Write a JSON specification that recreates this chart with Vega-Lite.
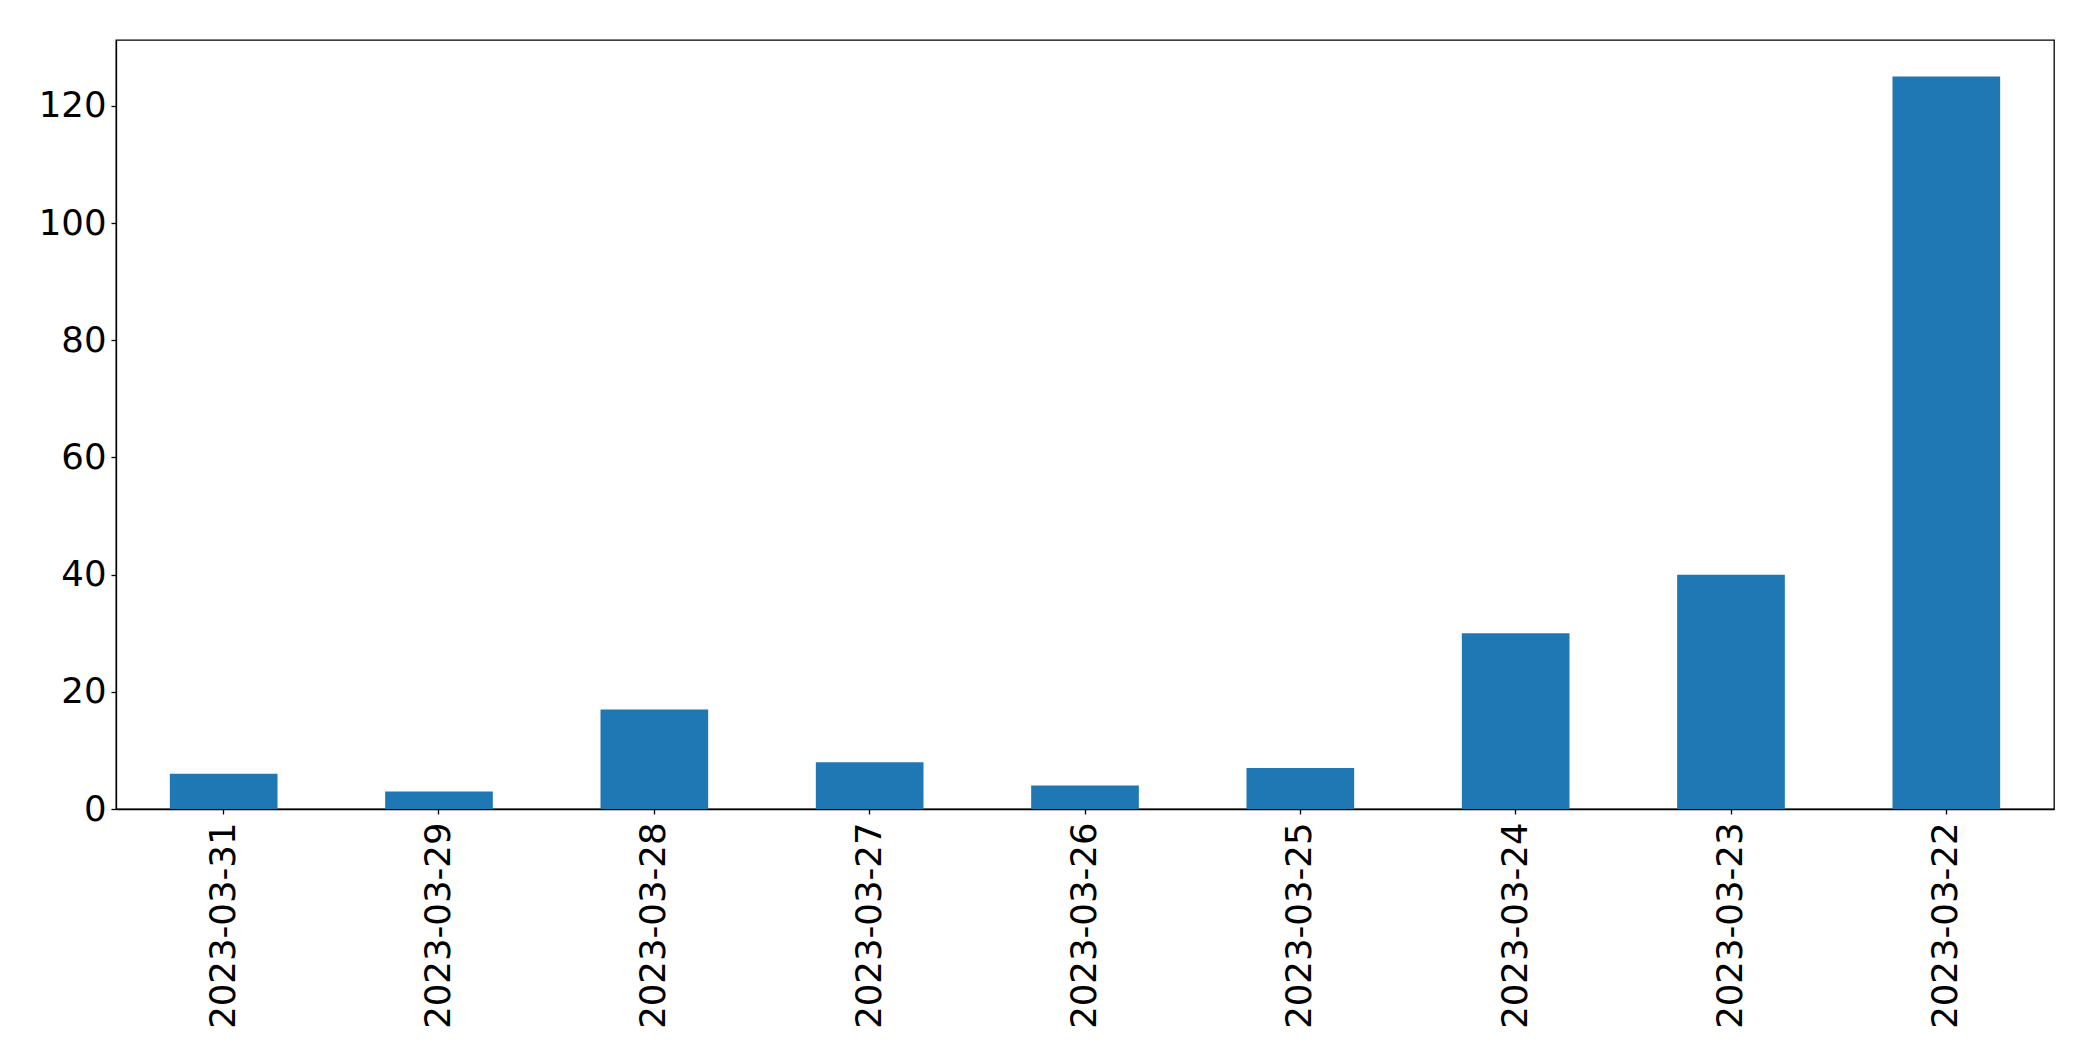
{
  "$schema": "https://vega.github.io/schema/vega-lite/v6.json",
  "autosize": {"type": "none"},
  "padding": {"left": 116, "top": 40, "right": 39, "bottom": 252},
  "width": 1938,
  "height": 769,
  "background": "white",
  "config": {
    "font": "DejaVu Sans",
    "view": {"stroke": "#000000", "strokeWidth": 1.3},
    "axis": {
      "grid": false,
      "domainColor": "#000000",
      "domainWidth": 1.3,
      "tickColor": "#000000",
      "tickWidth": 1.3,
      "tickSize": 5,
      "labelColor": "#000000",
      "labelFont": "DejaVu Sans",
      "labelFontSize": 35.5,
      "labelPadding": 5,
      "labelLimit": 0,
      "title": null
    }
  },
  "data": {
    "values": [
      {"date": "2023-03-31", "count": 6},
      {"date": "2023-03-29", "count": 3},
      {"date": "2023-03-28", "count": 17},
      {"date": "2023-03-27", "count": 8},
      {"date": "2023-03-26", "count": 4},
      {"date": "2023-03-25", "count": 7},
      {"date": "2023-03-24", "count": 30},
      {"date": "2023-03-23", "count": 40},
      {"date": "2023-03-22", "count": 125}
    ]
  },
  "mark": {"type": "bar", "color": "#1f77b4"},
  "encoding": {
    "x": {
      "field": "date",
      "type": "nominal",
      "sort": null,
      "scale": {"paddingInner": 0.5, "paddingOuter": 0.25},
      "axis": {"labelAngle": -90, "labelAlign": "right", "labelBaseline": "middle", "labelPadding": 8}
    },
    "y": {
      "field": "count",
      "type": "quantitative",
      "scale": {"domain": [0, 131.25], "nice": false, "zero": true},
      "axis": {"values": [0, 20, 40, 60, 80, 100, 120]}
    }
  }
}
